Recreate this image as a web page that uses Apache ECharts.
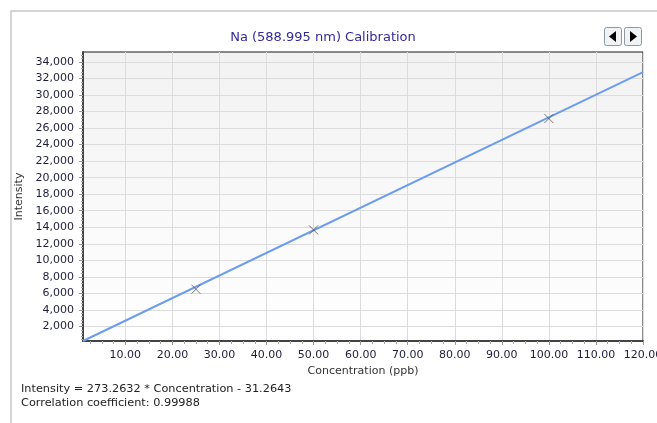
<!DOCTYPE html>
<html>
<head>
<meta charset="utf-8">
<script src="https://cdn.jsdelivr.net/npm/echarts@6/dist/echarts.min.js"></script>
<style>
html,body{margin:0;padding:0;background:#fff;}
#c{width:657px;height:423px;}
</style>
</head>
<body>
<div id="c"></div>
<script>
// Calibration standards (concentration ppb, intensity)
var stdConc = [25, 50, 100];
var stdIntensity = [6500, 13680, 27150];
// Fitted calibration line end points
var fitConc = [1, 120];
var fitIntensity = [242, 32760];
// Axis ranges and tick values
var xRange = [1, 120];
var yRange = [242, 35200];
var xTicks = [10, 20, 30, 40, 50, 60, 70, 80, 90, 100, 110, 120];
var xMinorTicks = [2.5, 5, 7.5, 12.5, 15, 17.5, 22.5, 25, 27.5, 32.5, 35, 37.5, 42.5, 45, 47.5, 52.5, 55, 57.5, 62.5, 65, 67.5, 72.5, 75, 77.5, 82.5, 85, 87.5, 92.5, 95, 97.5, 102.5, 105, 107.5, 112.5, 115, 117.5];
var yTicks = [2000, 4000, 6000, 8000, 10000, 12000, 14000, 16000, 18000, 20000, 22000, 24000, 26000, 28000, 30000, 32000, 34000];
var yMinorTicks = [400, 800, 1200, 1600, 2400, 2800, 3200, 3600, 4400, 4800, 5200, 5600, 6400, 6800, 7200, 7600, 8400, 8800, 9200, 9600, 10400, 10800, 11200, 11600, 12400, 12800, 13200, 13600, 14400, 14800, 15200, 15600, 16400, 16800, 17200, 17600, 18400, 18800, 19200, 19600, 20400, 20800, 21200, 21600, 22400, 22800, 23200, 23600, 24400, 24800, 25200, 25600, 26400, 26800, 27200, 27600, 28400, 28800, 29200, 29600, 30400, 30800, 31200, 31600, 32400, 32800, 33200, 33600, 34400, 34800];
var titleText = 'Na (588.995 nm) Calibration';
var xName = 'Concentration (ppb)';
var yName = 'Intensity';
var equationLines = ['Intensity = 273.2632 * Concentration - 31.2643', 'Correlation coefficient: 0.99988'];

var FONT = 'DejaVu Sans';
var chart = echarts.init(document.getElementById('c'), null, {renderer: 'canvas'});

var option = {
  animation: false,
  backgroundColor: '#fff',
  title: {
    text: titleText,
    left: 318, top: 26, textAlign: 'center',
    textStyle: {fontFamily: FONT, fontSize: 13, fontWeight: 'normal', color: '#33299a'}
  },
  grid: {
    left: 83, right: 14, top: 52, bottom: 82,
    outerBoundsMode: 'none',
    containLabel: false,
    show: true,
    borderColor: '#1a1a1a', borderWidth: 1,
    backgroundColor: new echarts.graphic.LinearGradient(0, 0, 0, 1, [
      {offset: 0, color: '#f2f2f2'}, {offset: 1, color: '#ffffff'}
    ])
  },
  xAxis: [{
    type: 'value', min: xRange[0], max: xRange[1],
    name: xName, nameLocation: 'middle', nameGap: 22,
    nameTextStyle: {fontFamily: FONT, fontSize: 11, color: '#333'},
    axisLine: {show: true, onZero: false, lineStyle: {color: '#444', width: 2}},
    axisTick: {show: true, length: 4, customValues: xTicks, lineStyle: {color: '#999'}},
    axisLabel: {customValues: xTicks, formatter: function (v) { return v.toFixed(2); }, fontFamily: FONT, fontSize: 11, color: '#1e1e3c', margin: 9},
    splitLine: {show: true, lineStyle: {color: '#dcdcdc', width: 1}}
  }, {
    type: 'value', min: xRange[0], max: xRange[1], position: 'bottom',
    axisLine: {show: false, onZero: false},
    axisTick: {show: true, length: 3, customValues: xMinorTicks, lineStyle: {color: '#aaa'}},
    axisLabel: {show: false},
    splitLine: {show: false}
  }],
  yAxis: [{
    type: 'value', min: yRange[0], max: yRange[1],
    name: yName, nameLocation: 'middle', nameGap: 52, nameRotate: 90,
    nameTextStyle: {fontFamily: FONT, fontSize: 11, color: '#333'},
    axisLine: {show: true, onZero: false, lineStyle: {color: '#444', width: 2}},
    axisTick: {show: true, length: 4, customValues: yTicks, lineStyle: {color: '#999'}},
    axisLabel: {customValues: yTicks, formatter: function (v) { return v.toLocaleString('en-US'); }, fontFamily: FONT, fontSize: 11, color: '#1e1e3c', margin: 9},
    splitLine: {show: true, lineStyle: {color: '#dcdcdc', width: 1}}
  }, {
    type: 'value', min: yRange[0], max: yRange[1], position: 'left',
    axisLine: {show: false, onZero: false},
    axisTick: {show: true, length: 2, customValues: yMinorTicks, lineStyle: {color: '#aaa'}},
    axisLabel: {show: false},
    splitLine: {show: false}
  }],
  series: [
    {
      type: 'line',
      data: fitConc.map(function (c, i) { return [c, fitIntensity[i]]; }),
      showSymbol: false, symbol: 'none',
      lineStyle: {color: '#6d9cf0', width: 2},
      z: 2
    },
    {
      type: 'scatter',
      data: stdConc.map(function (c, i) { return [c, stdIntensity[i]]; }),
      symbol: 'path://M0,0L10,10M10,0L0,10',
      symbolSize: 9,
      itemStyle: {color: 'rgba(0,0,0,0)', borderColor: '#555', borderWidth: 1},
      z: 3
    }
  ],
  graphic: [
    {type: 'polyline', shape: {points: [[11, 423], [11, 11], [657, 11]]}, style: {stroke: '#c8c8c8', lineWidth: 1.5, fill: null}, silent: true},
    {type: 'rect', shape: {x: 604.5, y: 27.5, width: 17, height: 18, r: 2}, style: {fill: '#f0f3f6', stroke: '#8c98a4', lineWidth: 1}},
    {type: 'polygon', shape: {points: [[609, 36.5], [616, 31], [616, 42]]}, style: {fill: '#000'}},
    {type: 'rect', shape: {x: 624.5, y: 27.5, width: 17, height: 18, r: 2}, style: {fill: '#f0f3f6', stroke: '#8c98a4', lineWidth: 1}},
    {type: 'polygon', shape: {points: [[637, 36.5], [630, 31], [630, 42]]}, style: {fill: '#000'}},
    {type: 'text', left: 21, top: 384, style: {text: equationLines[0], font: '11.3px "DejaVu Sans"', fill: '#222'}},
    {type: 'text', left: 21, top: 398, style: {text: equationLines[1], font: '11.3px "DejaVu Sans"', fill: '#222'}}
  ]
};
chart.setOption(option);
</script>
</body>
</html>
